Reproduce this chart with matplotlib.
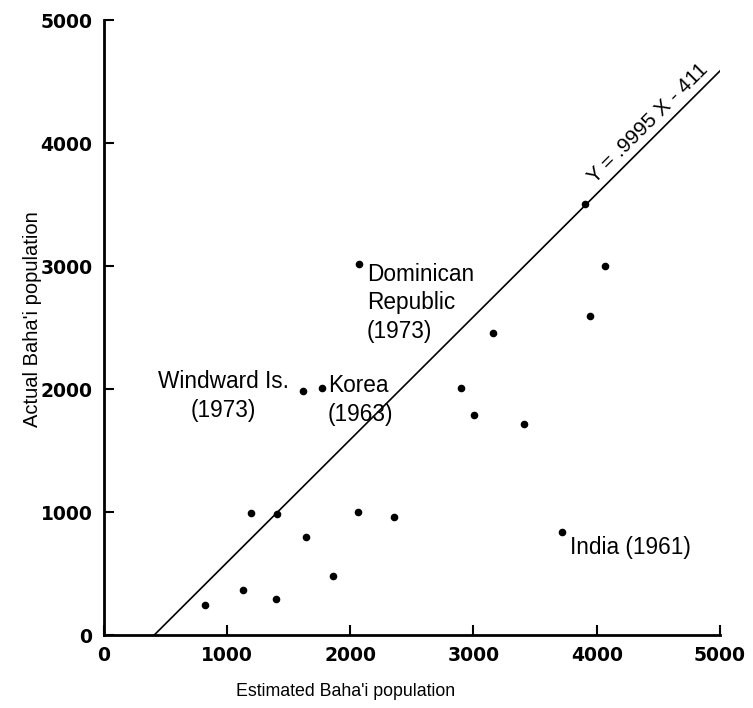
import numpy as np
import matplotlib.pyplot as plt

plt.rcParams['font.family'] = ['Liberation Sans', 'DejaVu Sans']

# estimated vs actual Baha'i population
estimated = [823, 1134, 1397, 1196, 1405, 1642, 1859, 2067, 2354,
             3905, 4065, 3946, 3161, 2897, 3005, 3408]
actual = [244, 366, 293, 992, 981, 799, 477, 1002, 962,
          3504, 3002, 2596, 2453, 2011, 1791, 1715]

# labelled countries
label_names = ["Dominican\nRepublic\n(1973)", "Windward Is.\n(1973)",
               "Korea\n(1963)", "India (1961)"]
label_est = [2072, 1616, 1770, 3716]
label_act = [3016, 1984, 2010, 835]

# fitted line Y = .9995 X - 411
slope = 0.9995
intercept = -411
fit_x = [411, 5000]

ticks = [0, 1000, 2000, 3000, 4000, 5000]

fig = plt.figure(figsize=(7.53, 7.08), dpi=100)
ax = fig.add_axes([0.1375, 0.1031, 0.8187, 0.8686])

fx = np.array(fit_x, dtype=float)
ax.plot(fx, slope * fx + intercept, color="black", linewidth=1.2)
ax.scatter(estimated + label_est, actual + label_act, s=20, color="black", zorder=3)

ax.set_xlim(0, 5000)
ax.set_ylim(0, 5000)
ax.set_xticks(ticks)
ax.set_yticks(ticks)
for s in ["top", "right"]:
    ax.spines[s].set_visible(False)
for s in ["left", "bottom"]:
    ax.spines[s].set_linewidth(2)
ax.tick_params(direction="in", length=7, width=1.5, pad=8)
for lab in ax.get_xticklabels() + ax.get_yticklabels():
    lab.set_family("DejaVu Sans")
    lab.set_fontweight("bold")
    lab.set_fontsize(13.5)

ax.set_xlabel("Estimated Baha'i population", fontsize=12.8)
ax.set_ylabel("Actual Baha'i population", fontsize=14.5)
ax.xaxis.set_label_coords(0.392, -0.078)
ax.yaxis.set_label_coords(-0.1, 0.514)

# point labels
fs = 16.3
ax.annotate(label_names[0], (label_est[0], label_act[0]), xytext=(8, 1),
            textcoords="offset pixels", ha="left", va="top", fontsize=fs,
            linespacing=1.3)
ax.annotate(label_names[1], (label_est[1], label_act[1]), xytext=(-14, 21),
            textcoords="offset pixels", ha="right", va="top", fontsize=fs,
            multialignment="center", linespacing=1.35)
ax.annotate(label_names[2], (label_est[2], label_act[2]), xytext=(6, 14),
            textcoords="offset pixels", ha="left", va="top", fontsize=fs,
            multialignment="left", linespacing=1.35)
ax.annotate(label_names[3], (label_est[3], label_act[3]), xytext=(8, -4),
            textcoords="offset pixels", ha="left", va="top", fontsize=fs)

# equation along the line
p1 = ax.transData.transform((0, 0))
p2 = ax.transData.transform((1000, 1000 * slope))
angle = np.degrees(np.arctan2(p2[1] - p1[1], p2[0] - p1[0]))
eq_x = 4493
ax.annotate("Y = .9995 X - 411", (eq_x, slope * eq_x + intercept), xytext=(-3, 3),
            textcoords="offset pixels", ha="center", va="bottom", fontsize=15,
            rotation=angle, rotation_mode="anchor")

fig.savefig("out.png", dpi=100)
